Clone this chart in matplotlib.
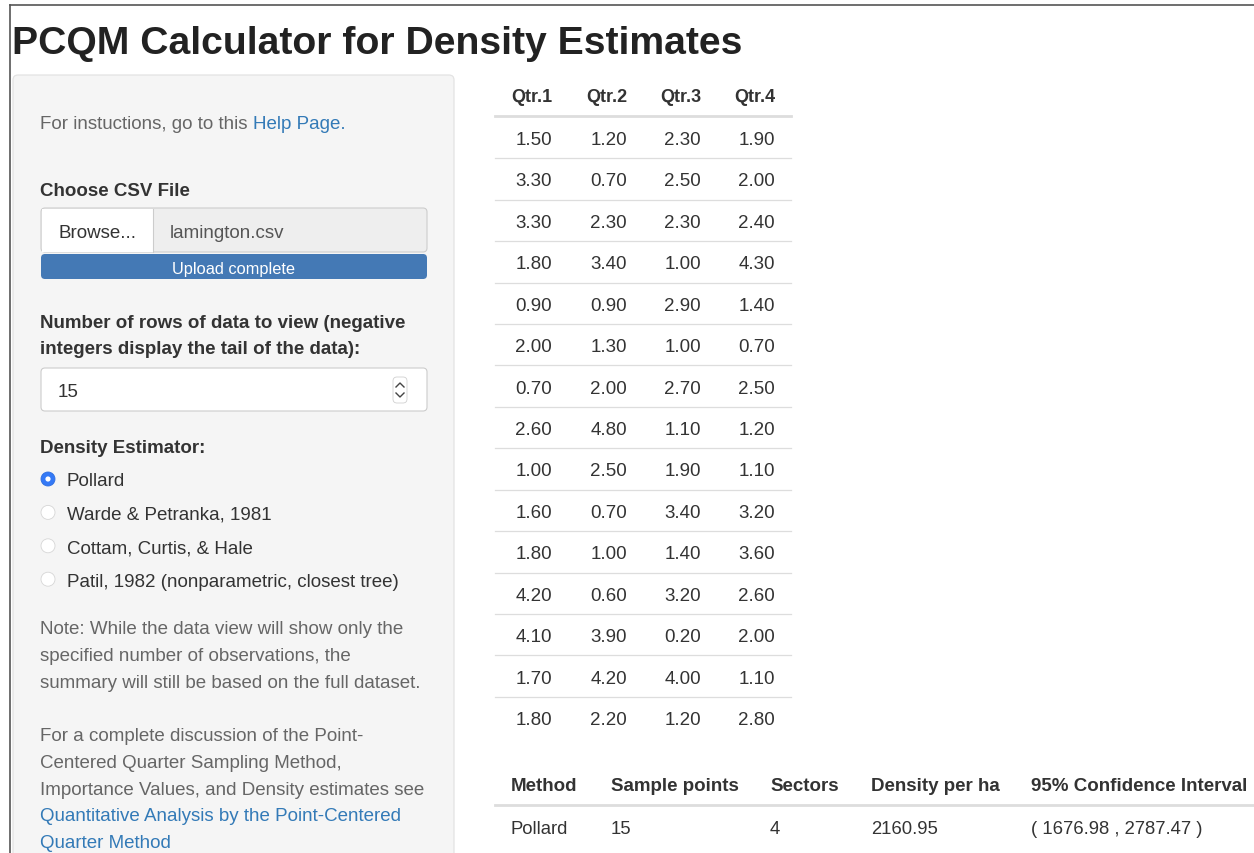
import matplotlib
matplotlib.use("Agg")
import matplotlib.pyplot as plt
from matplotlib.patches import FancyBboxPatch, Rectangle, Circle

plt.rcParams["font.family"] = ["Liberation Sans", "DejaVu Sans"]

W, H = 1254, 854
TXT = "#333333"
MUTED = "#666666"
LINK = "#337ab7"
RULE = "#dddddd"
BODY = 13.5

title = "PCQM Calculator for Density Estimates"
quarter_cols = ["Qtr.1", "Qtr.2", "Qtr.3", "Qtr.4"]
qtr1 = [1.50, 3.30, 3.30, 1.80, 0.90, 2.00, 0.70, 2.60, 1.00, 1.60, 1.80, 4.20, 4.10, 1.70, 1.80]
qtr2 = [1.20, 0.70, 2.30, 3.40, 0.90, 1.30, 2.00, 4.80, 2.50, 0.70, 1.00, 0.60, 3.90, 4.20, 2.20]
qtr3 = [2.30, 2.50, 2.30, 1.00, 2.90, 1.00, 2.70, 1.10, 1.90, 3.40, 1.40, 3.20, 0.20, 4.00, 1.20]
qtr4 = [1.90, 2.00, 2.40, 4.30, 1.40, 0.70, 2.50, 1.20, 1.10, 3.20, 3.60, 2.60, 2.00, 1.10, 2.80]

summary_cols = ["Method", "Sample points", "Sectors", "Density per ha", "95% Confidence Interval"]
summary_row = ["Pollard", "15", "4", "2160.95", "( 1676.98 , 2787.47 )"]

estimators = ["Pollard", "Warde & Petranka, 1981", "Cottam, Curtis, & Hale",
              "Patil, 1982 (nonparametric, closest tree)"]
selected = 0
note_lines = ["Note: While the data view will show only the",
              "specified number of observations, the",
              "summary will still be based on the full dataset."]
ref_lines = ["For a complete discussion of the Point-",
             "Centered Quarter Sampling Method,",
             "Importance Values, and Density estimates see"]
ref_link = ["Quantitative Analysis by the Point-Centered", "Quarter Method"]

fig = plt.figure(figsize=(W / 100, H / 100), dpi=100)
ax = fig.add_axes([0, 0, 1, 1])
ax.set_xlim(0, W); ax.set_ylim(H, 0); ax.axis("off")

def txt(x, y, s, size=BODY, color=TXT, weight="normal", ha="left", **kw):
    return ax.text(x, y, s, fontsize=size, color=color, fontweight=weight, ha=ha,
                   va="center_baseline", **kw)

def rbox(x, y, w, h, fc, ec, r=4, lw=0.8, z=1):
    ax.add_patch(FancyBboxPatch((x, y), w, h, boxstyle=f"round,pad=0,rounding_size={r}",
                                fc=fc, ec=ec, lw=lw, zorder=z))

# page frame
ax.plot([10, W], [6, 6], color="#555555", lw=1.2)
ax.plot([10, 10], [6, H], color="#555555", lw=1.2)

txt(12, 40, title, size=28.2, color="#222222", weight="bold")

# sidebar well
rbox(13, 76, 441, 800, "#f5f5f5", "#e3e3e3", r=5, lw=0.9)

lead = txt(40, 122.5, "For instuctions, go to this ", color=MUTED)
fig.canvas.draw()
bb = lead.get_window_extent(fig.canvas.get_renderer())
txt(bb.x1, 122.5, "Help Page.", color=LINK)

txt(40, 189, "Choose CSV File", weight="bold")
rbox(41, 209, 386, 44, "#eeeeee", "#cccccc", r=4)
ax.add_patch(Rectangle((41.5, 209.5), 112, 43, fc="white", ec="none", zorder=2))
ax.plot([153, 153], [209.5, 252.5], color="#cccccc", lw=0.8, zorder=3)
txt(58, 232, "Browse...", zorder=4)
txt(170, 232, "lamington.csv", color="#555555", zorder=4)
rbox(41, 255, 386, 25, "#4479b5", "none", r=4, z=2)
txt(234, 268, "Upload complete", size=11.8, color="white", ha="center", zorder=4)

txt(40, 322, "Number of rows of data to view (negative", weight="bold")
txt(40, 348, "integers display the tail of the data):", weight="bold")
rbox(41, 369, 386, 43, "white", "#cccccc", r=4)
txt(58, 391, "15")
rbox(393, 378, 14, 26, "white", "#d0d0d0", r=4, lw=0.6, z=3)
ax.plot([396, 400, 404], [388, 384, 388], color="#444444", lw=1.0, zorder=4)
ax.plot([396, 400, 404], [394, 398, 394], color="#444444", lw=1.0, zorder=4)

txt(40, 447, "Density Estimator:", weight="bold")
for i, lab in enumerate(estimators):
    yy = 480 + i * 33.4
    if i == selected:
        ax.add_patch(Circle((48, yy), 7, fc="#3479f6", ec="#2f6fe0", lw=0.6, zorder=3))
        ax.add_patch(Circle((48, yy), 2.6, fc="white", ec="none", zorder=4))
    else:
        ax.add_patch(Circle((48, yy), 7, fc="white", ec="#d6d6d6", lw=0.6, zorder=3))
    txt(67, yy, lab)

for i, line in enumerate(note_lines):
    txt(40, 628 + i * 26.6, line, color=MUTED)
for i, line in enumerate(ref_lines):
    txt(40, 735 + i * 26.6, line, color=MUTED)
for i, line in enumerate(ref_link):
    txt(40, 814.5 + i * 26.6, line, color=LINK)

# quarter table
q_right = [552, 627, 701, 775]
row0, step = 138.5, (718.5 - 138.5) / (len(qtr1) - 1)
for xr, c in zip(q_right, quarter_cols):
    txt(xr, 96, c, weight="bold", ha="right", size=13)
ax.plot([495, 791], [117, 117], color=RULE, lw=2.0)
for j, col in enumerate([qtr1, qtr2, qtr3, qtr4]):
    for i, v in enumerate(col):
        txt(q_right[j], row0 + i * step, f"{v:.2f}", ha="right")
for i in range(1, len(qtr1)):
    yy = row0 + (i - 0.5) * step
    ax.plot([495, 791], [yy, yy], color=RULE, lw=0.9)

# summary table
s_left = [511, 611, 770, 871, 1031]
for xl, c in zip(s_left, summary_cols):
    txt(xl, 785, c, weight="bold", size=13.5)
ax.plot([495, W], [806, 806], color=RULE, lw=2.0)
for xl, v in zip(s_left, summary_row):
    txt(xl, 828, v, size=13.3)

fig.savefig("out.png", dpi=100)
